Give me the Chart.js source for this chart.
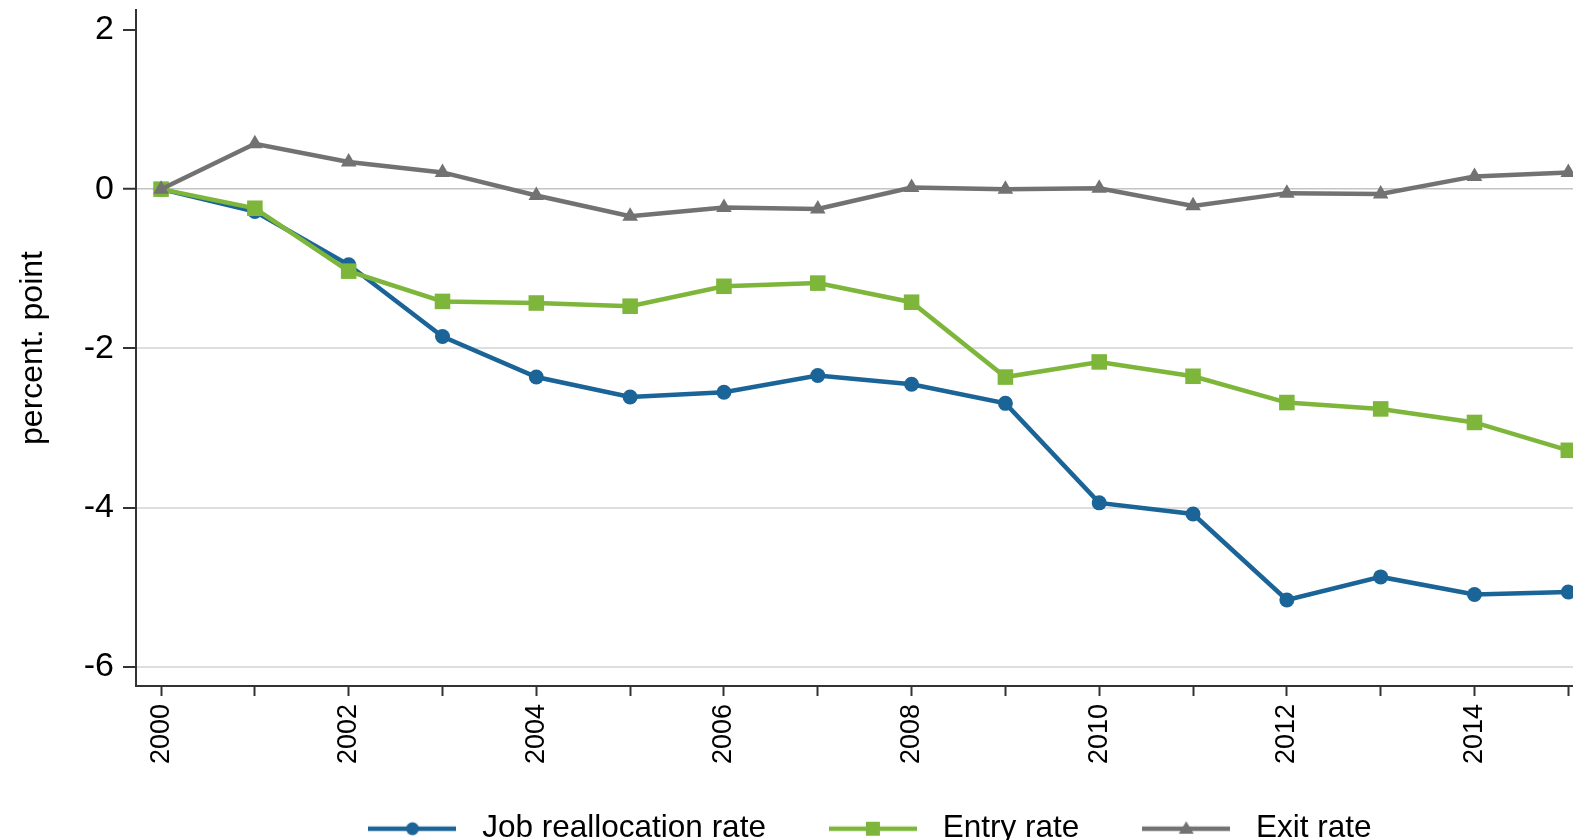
<!DOCTYPE html>
<html>
<head>
<meta charset="utf-8">
<script src="https://cdn.jsdelivr.net/npm/chart.js@4.4.1/dist/chart.umd.min.js"></script>
<style>
  html, body { margin: 0; padding: 0; background: #fff; overflow: hidden; }
  #wrap { width: 1573px; height: 840px; }
</style>
</head>
<body>
<div id="wrap"><canvas id="c" width="1573" height="840"></canvas></div>
<script>
// ---- data ----
const years = [2000, 2001, 2002, 2003, 2004, 2005, 2006, 2007, 2008, 2009, 2010, 2011, 2012, 2013, 2014, 2015];
const jobReallocation = [0, -0.28, -0.95, -1.85, -2.36, -2.61, -2.55, -2.34, -2.45, -2.69, -3.94, -4.08, -5.16, -4.87, -5.09, -5.06];
const entryRate = [0, -0.24, -1.03, -1.41, -1.43, -1.47, -1.22, -1.18, -1.42, -2.36, -2.17, -2.35, -2.68, -2.76, -2.93, -3.28];
const exitRate = [0, 0.57, 0.34, 0.21, -0.08, -0.34, -0.23, -0.25, 0.02, 0.0, 0.01, -0.21, -0.05, -0.06, 0.16, 0.21];
const seriesNames = ['Job reallocation rate', 'Entry rate', 'Exit rate'];
const xTickLabels = ['2000', '2002', '2004', '2006', '2008', '2010', '2012', '2014'];
const yTickValues = [-6, -4, -2, 0, 2];
const yAxisTitle = 'percent. point';

// ---- styles ----
const FONT = '"Liberation Sans", Arial, sans-serif';
const COLORS = ['#1a6497', '#7db63a', '#727272'];
const STYLES = ['circle', 'rect', 'triangle'];
const RADII = [7.5, 11, 9];
const PLOT_BOTTOM_SPACE = 154; // canvas height minus plot bottom

function legendImage(color, style) {
  const w = 88, h = 22;
  const cv = document.createElement('canvas');
  cv.width = w; cv.height = h;
  const g = cv.getContext('2d');
  g.strokeStyle = color; g.lineWidth = 4.5;
  g.beginPath(); g.moveTo(0, h / 2); g.lineTo(w, h / 2); g.stroke();
  g.fillStyle = color;
  const cx = w / 2, cy = h / 2;
  if (style === 'circle') {
    g.beginPath(); g.arc(cx, cy, 6.5, 0, Math.PI * 2); g.fill();
  } else if (style === 'rect') {
    g.fillRect(cx - 7, cy - 7, 14, 14);
  } else {
    g.beginPath(); g.moveTo(cx, cy - 7.5); g.lineTo(cx + 7.5, cy + 5); g.lineTo(cx - 7.5, cy + 5); g.closePath(); g.fill();
  }
  return cv;
}

const seriesValues = [jobReallocation, entryRate, exitRate];
const datasets = seriesValues.map((vals, i) => ({
  label: seriesNames[i],
  data: years.map((yr, k) => ({ x: yr, y: vals[k] })),
  borderColor: COLORS[i],
  backgroundColor: COLORS[i],
  borderWidth: 4.5,
  pointStyle: STYLES[i],
  pointRadius: RADII[i],
  pointBorderWidth: 0,
  pointBackgroundColor: COLORS[i],
  tension: 0,
  order: 3 - i,
  legendImg: legendImage(COLORS[i], STYLES[i])
}));

const legendPlacement = {
  id: 'legendPlacement',
  afterLayout(chart) {
    const lg = chart.legend;
    if (lg) {
      const h = lg.bottom - lg.top;
      lg.left = 0; lg.right = 1730;
      lg.top = 760; lg.bottom = 760 + h;
    }
    const xs = chart.scales.x;
    if (xs) { xs.bottom = chart.height; xs.height = xs.bottom - xs.top; }
  }
};

function noScalePadding(scale) {
  scale.paddingLeft = 0; scale.paddingRight = 0;
  scale.paddingTop = 0; scale.paddingBottom = 0;
}

new Chart(document.getElementById('c'), {
  type: 'line',
  data: { datasets },
  plugins: [legendPlacement],
  options: {
    responsive: false,
    animation: false,
    devicePixelRatio: 1,
    layout: { autoPadding: false, padding: { top: 10, right: 0, bottom: 0, left: 0 } },
    plugins: {
      tooltip: { enabled: false },
      legend: {
        position: 'bottom',
        align: 'center',
        labels: {
          usePointStyle: true,
          pointStyleWidth: 108,
          padding: 53,
          color: '#000',
          font: { family: FONT, size: 31.5 },
          generateLabels(chart) {
            return chart.data.datasets.map((ds, i) => ({
              text: ds.label,
              pointStyle: ds.legendImg,
              fillStyle: ds.borderColor,
              strokeStyle: ds.borderColor,
              lineWidth: 0,
              hidden: false,
              datasetIndex: i,
              fontColor: '#000'
            }));
          }
        }
      }
    },
    scales: {
      x: {
        type: 'linear',
        min: 1999.733,
        max: 2015.05,
        afterFit(scale) {
          const lg = scale.chart.legend;
          const lh = lg && lg.options.display ? lg.height : 0;
          scale.height = Math.max(0, PLOT_BOTTOM_SPACE - lh);
          noScalePadding(scale);
        },
        afterBuildTicks(scale) { scale.ticks = years.map(v => ({ value: v })); },
        ticks: {
          autoSkip: false,
          minRotation: 90,
          maxRotation: 90,
          padding: 8,
          color: '#000',
          font: { family: FONT, size: 27 },
          callback(v) { const s = String(v); return xTickLabels.includes(s) ? s : ''; }
        },
        grid: { drawOnChartArea: false, drawTicks: true, tickLength: 10, tickWidth: 2, tickColor: '#333' },
        border: { display: true, color: '#333', width: 2 }
      },
      y: {
        type: 'linear',
        min: -6.24,
        max: 2.25,
        afterFit(scale) { scale.width = 136; noScalePadding(scale); },
        afterBuildTicks(scale) { scale.ticks = yTickValues.map(v => ({ value: v })); },
        ticks: {
          padding: 9,
          color: '#000',
          font: { family: FONT, size: 34 },
          callback(v) { return String(v); }
        },
        grid: {
          drawTicks: true,
          tickLength: 13,
          tickWidth: 2,
          tickColor: '#333',
          lineWidth(ctx) { return ctx.tick && ctx.tick.value === 0 ? 1.5 : 2; },
          color(ctx) {
            if (!ctx.tick) return '#dcdcdc';
            if (ctx.tick.value === 2) return 'rgba(0,0,0,0)';
            if (ctx.tick.value === 0) return '#c4c4c4';
            return '#dedede';
          }
        },
        border: { display: true, color: '#333', width: 2 },
        title: {
          display: true,
          text: yAxisTitle,
          color: '#000',
          font: { family: FONT, size: 32 },
          padding: { top: 14, bottom: 0 }
        }
      }
    }
  }
});
</script>
</body>
</html>
